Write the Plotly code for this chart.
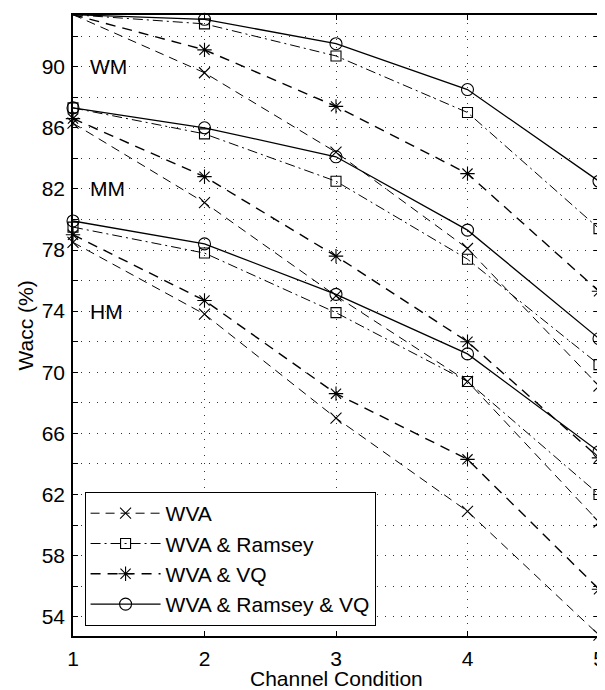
import plotly.graph_objects as go

# ---------------- data ----------------
channel = [1, 2, 3, 4, 5]

# WM group
wva_wm = [93.4, 89.6, 84.4, 78.1, 69.1]
ram_wm = [93.4, 92.8, 90.7, 87.0, 79.4]
vq_wm = [93.4, 91.1, 87.4, 83.0, 75.3]
all_wm = [93.4, 93.1, 91.5, 88.5, 82.5]

# MM group
wva_mm = [86.3, 81.1, 75.0, 69.4, 60.2]
ram_mm = [87.3, 85.6, 82.5, 77.4, 70.5]
vq_mm = [86.6, 82.8, 77.6, 72.0, 64.4]
all_mm = [87.3, 86.0, 84.1, 79.3, 72.2]

# HM group
wva_hm = [78.5, 73.8, 67.0, 60.9, 52.8]
ram_hm = [79.5, 77.8, 73.9, 69.4, 62.0]
vq_hm = [79.0, 74.7, 68.6, 64.3, 55.8]
all_hm = [79.9, 78.4, 75.1, 71.2, 64.8]

series_names = ["WVA", "WVA & Ramsey", "WVA & VQ", "WVA & Ramsey & VQ"]
group_labels = ["WM", "MM", "HM"]
group_label_y = [90, 82, 74]
x_title = "Channel Condition"
y_title = "Wacc (%)"

y_tickvals = list(range(54, 93, 2))
y_ticktext = [str(v) if (v - 54) % 4 == 0 else "" for v in y_tickvals]

# ---------------- styles ----------------
FONT = "Liberation Sans, Arial, Helvetica, sans-serif"
FS = 21
styles = {
    "WVA": dict(dash="9px,6px", width=1, symbol="x-thin-open", msize=11),
    "WVA & Ramsey": dict(dash="10px,4px,2px,4px", width=1, symbol="square-open", msize=10),
    "WVA & VQ": dict(dash="10px,7px", width=1.4, symbol="asterisk-open", msize=12),
    "WVA & Ramsey & VQ": dict(dash="solid", width=1.3, symbol="circle-open", msize=12),
}

groups = [
    [wva_wm, ram_wm, vq_wm, all_wm],
    [wva_mm, ram_mm, vq_mm, all_mm],
    [wva_hm, ram_hm, vq_hm, all_hm],
]

fig = go.Figure()
for gi, grp in enumerate(groups):
    for name, vals in zip(series_names, grp):
        s = styles[name]
        fig.add_trace(go.Scatter(
            x=channel, y=vals, name=name, legendgroup=name,
            showlegend=(gi == 0), mode="lines+markers",
            line=dict(color="black", width=s["width"], dash=s["dash"]),
            marker=dict(symbol=s["symbol"], size=s["msize"], color="black",
                        line=dict(color="black", width=1.1)),
            cliponaxis=False,
        ))

for lab, yv in zip(group_labels, group_label_y):
    fig.add_annotation(x=1.114, y=yv, text=lab, showarrow=False,
                       xanchor="left", yanchor="middle",
                       font=dict(size=FS, color="black", family=FONT))

# axis titles
fig.add_annotation(x=0.5, y=0, xref="paper", yref="paper", text=x_title,
                   showarrow=False, xanchor="center", yanchor="middle",
                   yshift=-42, borderpad=0,
                   font=dict(size=FS, color="black", family=FONT))
fig.add_annotation(x=0, y=0.5, xref="paper", yref="paper", text=y_title,
                   showarrow=False, xanchor="center", yanchor="middle",
                   textangle=-90, xshift=-48,
                   font=dict(size=FS, color="black", family=FONT))

# page body has an 8px default margin; margins compensate for it
fig.update_layout(
    width=605, height=690,
    margin=dict(l=65, r=14, t=7, b=62, autoexpand=False),
    paper_bgcolor="white", plot_bgcolor="white",
    font=dict(family=FONT, size=FS, color="black"),
    showlegend=True,
    legend=dict(x=0.022, y=0.016, xanchor="left", yanchor="bottom",
                bgcolor="white", bordercolor="black", borderwidth=1,
                font=dict(size=FS, family=FONT), itemwidth=70,
                tracegroupgap=0),
)

fig.update_xaxes(
    range=[1, 5], tickvals=channel, ticktext=[str(c) for c in channel],
    showline=True, linecolor="black", linewidth=1.5, mirror="ticks",
    ticks="inside", ticklen=5, tickcolor="black",
    showgrid=True, gridcolor="#333", gridwidth=1, griddash="1px,7px",
    zeroline=False, ticklabelstandoff=3, automargin=False,
)
fig.update_yaxes(
    range=[52.74, 93.38], tickvals=y_tickvals, ticktext=y_ticktext,
    showline=True, linecolor="black", linewidth=1.5, mirror="ticks",
    ticks="inside", ticklen=5, tickcolor="black",
    showgrid=True, gridcolor="#333", gridwidth=1, griddash="1px,7px",
    zeroline=False, ticklabelstandoff=2, automargin=False,
)

fig.write_html("out.html")
